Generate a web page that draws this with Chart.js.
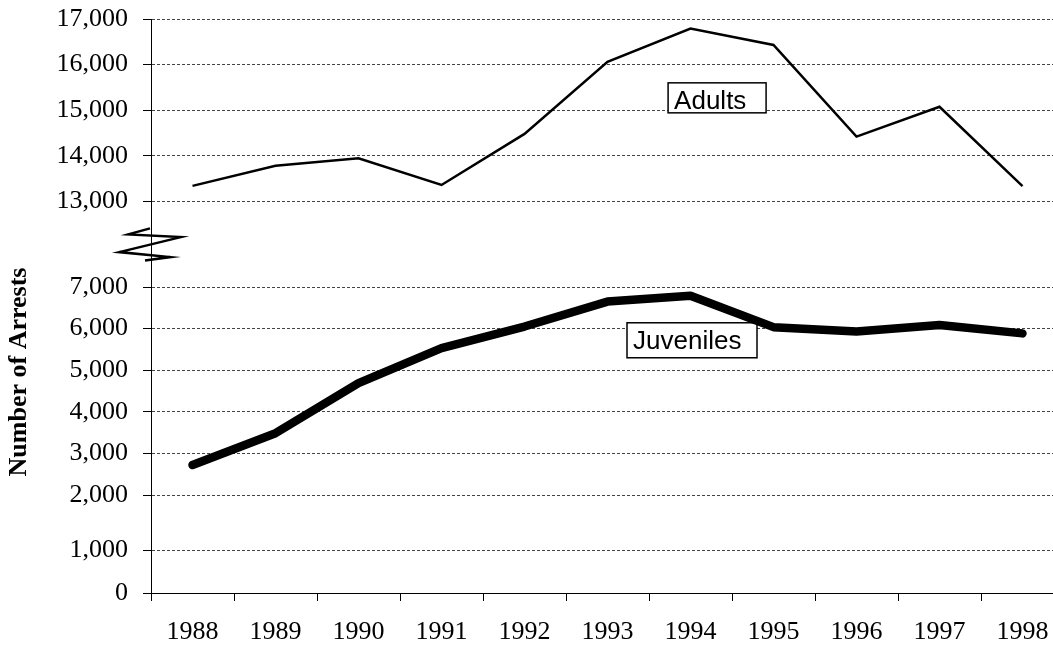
<!DOCTYPE html>
<html>
<head>
<meta charset="utf-8">
<style>
html, body { margin: 0; padding: 0; background: #fff; overflow: hidden; }
canvas { display: block; }
</style>
<script src="https://cdn.jsdelivr.net/npm/chart.js@4.4.1/dist/chart.umd.min.js"></script>
</head>
<body>
<canvas id="arrestsChart" width="1070" height="651"></canvas>
<script>
const years = ['1988', '1989', '1990', '1991', '1992', '1993', '1994', '1995', '1996', '1997', '1998']
const adults = [13340, 13780, 13945, 13360, 14480, 16060, 16790, 16430, 14420, 15075, 13335]
const juveniles = [2720, 3485, 4690, 5530, 6050, 6650, 6790, 6035, 5930, 6085, 5885]
const upperTicks = [13000, 14000, 15000, 16000, 17000]
const lowerTicks = [0, 1000, 2000, 3000, 4000, 5000, 6000, 7000]

const serif = 'Liberation Serif, Times New Roman, serif'
const sans = 'Liberation Sans, Arial, sans-serif'

// boxed series names, placed in data units (left edge index, top value)
const seriesLabels = [
        { text: 'Adults', axis: 'yTop', at: 5.73, top: 15600, w: 98, h: 30 },
        { text: 'Juveniles', axis: 'yHigh', at: 5.235, top: 6140, w: 130, h: 35 }
]

function yAxis(min, max, ticks, stackWeight, weight) {
        return {
                type: 'linear',
                position: 'left',
                stack: 'arrests',
                stackWeight: stackWeight,
                weight: weight,
                min: min,
                max: max,
                afterBuildTicks: s => { s.ticks = ticks.map(v => ({ value: v })) },
                afterFit: s => {
                        s.width = 151
                        s.paddingTop = 0
                        s.paddingBottom = 0
                },
                grid: {
                        color: c => (c.tick && c.tick.value === 0) ? 'rgba(0,0,0,0)' : '#444',
                        tickColor: '#000',
                        tickLength: 8,
                        lineWidth: 1
                },
                border: { color: '#000', width: 1, dash: [3, 2] },
                ticks: {
                        color: '#000',
                        padding: 15,
                        autoSkip: false,
                        font: { family: serif, size: 26 },
                        callback: v => v.toLocaleString('en-US')
                }
        }
}

const decorations = {
        id: 'decorations',
        beforeDatasetsDraw(chart) {
                const c = chart.ctx
                const x = chart.scales.x
                c.save()
                seriesLabels.forEach(lab => {
                        const left = x.getPixelForValue(lab.at)
                        const top = chart.scales[lab.axis].getPixelForValue(lab.top)
                        c.fillStyle = '#fff'
                        c.fillRect(left, top, lab.w, lab.h)
                        c.strokeStyle = '#000'
                        c.lineWidth = 1.5
                        c.strokeRect(left, top, lab.w, lab.h)
                        c.fillStyle = '#000'
                        c.font = '26px ' + sans
                        c.textAlign = 'left'
                        c.textBaseline = 'alphabetic'
                        c.fillText(lab.text, left + 6, top + 26)
                })
                c.restore()
        },
        afterDraw(chart) {
                const c = chart.ctx
                const x0 = chart.chartArea.left
                const y0 = chart.scales.yTop.getPixelForValue(13000)
                // axis break mark
                const zig = [[-1, 27], [-22.7, 33], [29.7, 35.7], [-31.7, 50.7], [19, 55.7], [-6, 59]]
                c.save()
                c.strokeStyle = '#000'
                c.lineWidth = 2.5
                c.lineJoin = 'miter'
                c.beginPath()
                zig.forEach((p, i) => {
                        if (i === 0) c.moveTo(x0 + p[0], y0 + p[1])
                        else c.lineTo(x0 + p[0], y0 + p[1])
                })
                c.stroke()

                c.translate(19, 372)
                c.rotate(-Math.PI / 2)
                c.font = 'bold 26px ' + serif
                c.textAlign = 'center'
                c.textBaseline = 'middle'
                c.fillStyle = '#000'
                c.fillText('Number of Arrests', 0, 0)
                c.restore()
        }
}

const ctx = document.getElementById('arrestsChart').getContext('2d')

new Chart(ctx, {
        type: 'line',
        data: {
                labels: years,
                datasets: [{
                        label: 'Adults',
                        data: adults,
                        yAxisID: 'yTop',
                        borderColor: '#000',
                        borderWidth: 2.5,
                        borderJoinStyle: 'miter',
                        pointRadius: 0,
                        tension: 0,
                        fill: false
                }, {
                        label: 'Juveniles',
                        data: juveniles,
                        yAxisID: 'yHigh',
                        borderColor: '#000',
                        borderWidth: 8.5,
                        borderCapStyle: 'round',
                        borderJoinStyle: 'round',
                        pointRadius: 0,
                        tension: 0,
                        fill: false
                }]
        },
        options: {
                responsive: false,
                animation: false,
                layout: { padding: { left: 0, right: 6, top: 19, bottom: 0 } },
                plugins: {
                        legend: { display: false },
                        tooltip: { enabled: false }
                },
                scales: {
                        x: {
                                type: 'category',
                                offset: true,
                                afterFit: s => { s.height = 58 },
                                grid: {
                                        offset: true,
                                        drawOnChartArea: false,
                                        tickLength: 8,
                                        tickColor: '#000'
                                },
                                border: { color: '#000', width: 1 },
                                ticks: {
                                        color: '#000',
                                        padding: 16,
                                        maxRotation: 0,
                                        autoSkip: false,
                                        font: { family: serif, size: 26 }
                                }
                        },
                        yTop: yAxis(11123, 17000, upperTicks, 268, 4),
                        yHigh: yAxis(2000, 7000, lowerTicks.filter(v => v >= 2000), 208, 3),
                        yMid: yAxis(1000, 2000, [1000], 55, 2),
                        yLow: yAxis(0, 1000, [0], 43, 1)
                }
        },
        plugins: [decorations]
})
</script>
</body>
</html>
